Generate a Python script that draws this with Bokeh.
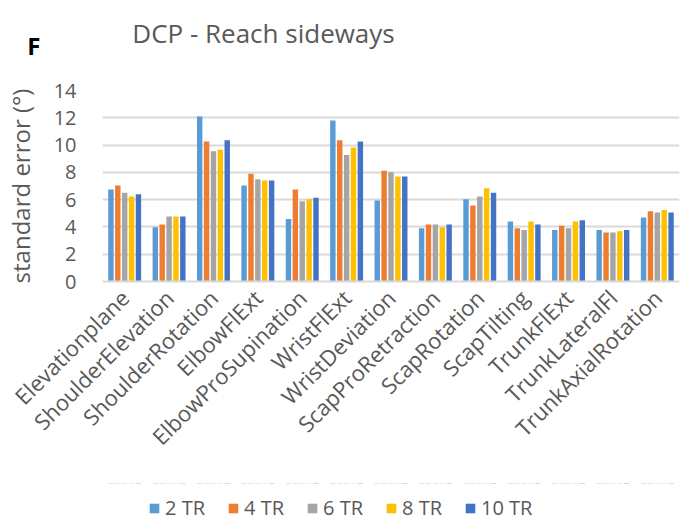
import math
from bokeh.plotting import figure
from bokeh.models import ColumnDataSource, Legend, LegendItem, Label, FactorRange, Range1d
from bokeh.layouts import column
from bokeh.transform import dodge
from bokeh.embed import file_html
from bokeh.resources import INLINE

categories = ["Elevationplane", "ShoulderElevation", "ShoulderRotation", "ElbowFlExt",
              "ElbowProSupination", "WristFlExt", "WristDeviation", "ScapProRetraction",
              "ScapRotation", "ScapTilting", "TrunkFlExt", "TrunkLateralFl", "TrunkAxialRotation"]
tr2 = [6.74, 3.98, 12.1, 7.03, 4.59, 11.8, 5.93, 3.9, 6.03, 4.4, 3.78, 3.78, 4.69]
tr4 = [7.03, 4.18, 10.26, 7.9, 6.74, 10.35, 8.11, 4.18, 5.57, 3.9, 4.08, 3.59, 5.15]
tr6 = [6.5, 4.76, 9.55, 7.5, 5.88, 9.28, 8.0, 4.18, 6.23, 3.78, 3.9, 3.59, 5.05]
tr8 = [6.23, 4.76, 9.65, 7.4, 6.03, 9.82, 7.69, 3.98, 6.84, 4.4, 4.4, 3.69, 5.25]
tr10 = [6.4, 4.76, 10.35, 7.4, 6.13, 10.26, 7.69, 4.18, 6.5, 4.18, 4.49, 3.78, 5.05]
series_names = ["2 TR", "4 TR", "6 TR", "8 TR", "10 TR"]
y_ticks = [0, 2, 4, 6, 8, 10, 12, 14]

colors = ["#5B9BD5", "#ED7D31", "#A5A5A5", "#FFC000", "#4472C4"]
series = [tr2, tr4, tr6, tr8, tr10]
keys = ["s2", "s4", "s6", "s8", "s10"]

data = {"cat": categories}
for k, s in zip(keys, series):
    data[k] = s
source = ColumnDataSource(data)

FONT = "Open Sans"
GRAY = "#595959"

# title strip
top = figure(x_range=Range1d(0, 680), y_range=Range1d(0, 64), width=680, height=72,
             output_backend="svg", toolbar_location=None,
             min_border_left=0, min_border_right=0, min_border_top=18, min_border_bottom=0)
top.xaxis.visible = False
top.grid.grid_line_color = None
top.outline_line_color = None
top.yaxis.ticker = []
top.yaxis.axis_line_color = None
top.yaxis.major_tick_line_color = None
top.yaxis.minor_tick_line_color = None
top.yaxis.major_label_text_color = None
top.yaxis.axis_label = "F"
top.yaxis.axis_label_orientation = "horizontal"
top.yaxis.axis_label_text_font = FONT
top.yaxis.axis_label_text_font_size = "24px"
top.yaxis.axis_label_text_font_style = "bold"
top.yaxis.axis_label_text_color = "black"
top.yaxis.axis_label_standoff = 62
top.add_layout(Label(x=161, y=40, x_units="screen", y_units="screen",
                     text="DCP - Reach sideways", text_font=FONT, text_font_size="26px",
                     text_color=GRAY, text_align="center", text_baseline="middle"))

# main chart
p = figure(x_range=FactorRange(*categories, range_padding=0), y_range=(0, 14),
           width=680, height=411, output_backend="svg", toolbar_location=None,
           min_border_left=96, min_border_right=1, min_border_top=18, min_border_bottom=202)

offsets = [-0.31, -0.155, 0.0, 0.155, 0.31]
for k, c, off in zip(keys, colors, offsets):
    p.vbar(x=dodge("cat", off, range=p.x_range), top=k, width=0.122, source=source,
           fill_color=c, line_color=None)

p.outline_line_color = None
p.ygrid.grid_line_color = "#D9D9D9"
p.ygrid.grid_line_width = 2
p.xgrid.grid_line_color = None

p.yaxis.ticker = y_ticks
p.yaxis.axis_line_color = None
p.yaxis.major_tick_line_color = None
p.yaxis.minor_tick_line_color = None
p.yaxis.major_label_text_font = FONT
p.yaxis.major_label_text_font_size = "20px"
p.yaxis.major_label_text_color = GRAY
p.yaxis.major_label_standoff = 20
p.yaxis.axis_label = "standard error (°)"
p.yaxis.axis_label_text_font = FONT
p.yaxis.axis_label_text_font_size = "24px"
p.yaxis.axis_label_text_font_style = "normal"
p.yaxis.axis_label_text_color = GRAY
p.yaxis.axis_label_standoff = 14

p.xaxis.axis_line_color = "#D9D9D9"
p.xaxis.axis_line_width = 2
p.xaxis.major_tick_line_color = None
p.xaxis.minor_tick_line_color = None
p.xaxis.major_label_orientation = math.pi / 4
p.xaxis.major_label_text_font = FONT
p.xaxis.major_label_text_font_size = "22px"
p.xaxis.major_label_text_color = GRAY
p.xaxis.major_label_standoff = 6

# legend strip
lg = figure(x_range=p.x_range, y_range=Range1d(-100, -99), width=680, height=38,
            output_backend="svg", toolbar_location=None,
            min_border_left=0, min_border_right=0, min_border_top=0, min_border_bottom=0)
lg.axis.visible = False
lg.grid.grid_line_color = None
lg.outline_line_color = None
items = []
for k, name, c, off in zip(keys, series_names, colors, offsets):
    r = lg.vbar(x=dodge("cat", off, range=lg.x_range), top=k, width=0.122, source=source,
                fill_color=c, line_color=None)
    items.append(LegendItem(label=name, renderers=[r]))
legend = Legend(items=items, orientation="horizontal", location=(46, 0),
                label_text_font=FONT, label_text_font_size="20px", label_text_color=GRAY,
                glyph_width=12, glyph_height=12, spacing=22, border_line_color=None,
                background_fill_alpha=0, padding=0, margin=0, label_standoff=5,
                label_height=24)
lg.add_layout(legend)

layout = column(top, p, lg, spacing=0)
open("out.html", "w").write(file_html(layout, INLINE))
